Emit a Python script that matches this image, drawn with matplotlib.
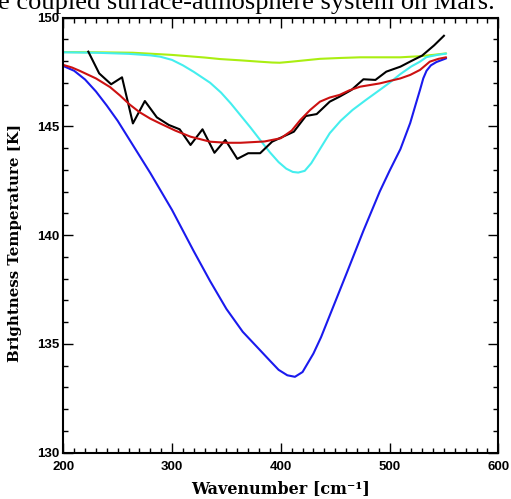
import matplotlib
matplotlib.use("Agg")
import matplotlib.pyplot as plt
from matplotlib.ticker import MultipleLocator

# ---- data ----
obs_wn = [223, 233, 244, 254, 264, 275, 286, 297, 307, 317, 328, 339, 349, 360,
          370, 381, 392, 402, 412, 423, 433, 445, 454, 465, 476, 487, 497, 510,
          520, 530, 541, 550]
obs_tb = [148.43, 147.43, 146.93, 147.25, 145.13, 146.16, 145.41, 145.06, 144.86,
          144.14, 144.86, 143.78, 144.37, 143.50, 143.76, 143.76, 144.29, 144.52,
          144.75, 145.47, 145.56, 146.13, 146.36, 146.67, 147.16, 147.13, 147.51,
          147.74, 148.00, 148.25, 148.72, 149.16]

green_wn = [200, 230, 264, 300, 330, 344, 363, 380, 392, 399, 408, 420, 436, 455,
            473, 510, 528, 540, 552]
green_tb = [148.41, 148.40, 148.38, 148.28, 148.16, 148.09, 148.03, 147.97, 147.93,
            147.92, 147.96, 148.02, 148.10, 148.14, 148.17, 148.17, 148.22, 148.28,
            148.35]

cyan_wn = [200, 230, 260, 280, 289, 300, 310, 320, 335, 345, 354, 363, 372, 381,
           390, 398, 405, 411, 416, 422, 428, 436, 445, 455, 466, 478, 491, 500,
           510, 520, 528, 534, 544, 552]
cyan_tb = [148.40, 148.38, 148.33, 148.26, 148.20, 148.05, 147.80, 147.50, 147.00,
           146.55, 146.05, 145.50, 144.95, 144.37, 143.80, 143.35, 143.05, 142.90,
           142.87, 142.95, 143.30, 143.95, 144.68, 145.25, 145.75, 146.20, 146.67,
           147.00, 147.40, 147.75, 147.97, 148.18, 148.28, 148.34]

blue_wn = [200, 210, 220, 230, 240, 250, 260, 270, 280, 290, 300, 310, 320, 335,
           350, 365, 381, 390, 398, 406, 413, 420, 430, 437, 445, 461, 476, 491,
           500, 510, 519, 524, 528, 531, 534, 538, 543, 552]
blue_tb = [147.77, 147.55, 147.15, 146.60, 145.95, 145.25, 144.45, 143.65, 142.85,
           142.00, 141.15, 140.20, 139.25, 137.88, 136.60, 135.55, 134.70, 134.22,
           133.80, 133.55, 133.48, 133.70, 134.55, 135.30, 136.30, 138.30, 140.20,
           142.00, 142.95, 143.95, 145.15, 146.00, 146.67, 147.20, 147.55, 147.80,
           147.95, 148.12]

red_wn = [200, 208, 215, 230, 243, 252, 261, 270, 280, 289, 303, 317, 335, 350,
          363, 385, 400, 410, 418, 427, 436, 445, 454, 463, 473, 491, 510, 519,
          528, 533, 537, 545, 552]
red_tb = [147.82, 147.70, 147.55, 147.20, 146.80, 146.42, 146.00, 145.65, 145.35,
          145.13, 144.80, 144.52, 144.29, 144.24, 144.24, 144.30, 144.45, 144.80,
          145.29, 145.75, 146.13, 146.32, 146.44, 146.65, 146.82, 146.97, 147.20,
          147.36, 147.59, 147.80, 147.97, 148.10, 148.17]

xticks = [200, 300, 400, 500, 600]
yticks = [130, 135, 140, 145, 150]

# ---- figure ----
W, H = 511, 499
fig = plt.figure(figsize=(W / 100, H / 100), dpi=100)
left, right = 63.3 / W, 498.3 / W
bottom, top = 1 - 452.5 / H, 1 - 17.5 / H
ax = fig.add_axes([left, bottom, right - left, top - bottom])

lw = 1.5
kw = dict(lw=lw, solid_joinstyle="round", solid_capstyle="round")
ax.plot(green_wn, green_tb, color="#aaee11", **kw)
ax.plot(cyan_wn, cyan_tb, color="#44eeee", **kw)
ax.plot(blue_wn, blue_tb, color="#1a1aee", **kw)
ax.plot(obs_wn, obs_tb, color="black", lw=lw)
ax.plot(red_wn, red_tb, color="#cc1111", **kw)

ax.set_xlim(200, 600)
ax.set_ylim(130, 150)
ax.set_xticks(xticks)
ax.set_yticks(yticks)
ax.xaxis.set_minor_locator(MultipleLocator(10))
ax.yaxis.set_minor_locator(MultipleLocator(1))
ax.tick_params(which="both", direction="in", top=True, right=True, width=1.0)
ax.tick_params(which="major", length=7)
ax.tick_params(which="minor", length=3.5)
ax.tick_params(axis="x", pad=6)
ax.tick_params(axis="y", pad=3)
for lab in ax.get_xticklabels() + ax.get_yticklabels():
    lab.set_fontfamily("Liberation Sans")
    lab.set_fontweight("bold")
    lab.set_fontsize(9.5)
for s in ax.spines.values():
    s.set_linewidth(1.5)

ax.set_xlabel("Wavenumber [cm⁻¹]", fontfamily="DejaVu Serif", fontweight="bold",
              fontsize=11.5, labelpad=5)
ax.set_ylabel("Brightness Temperature [K]", fontfamily="DejaVu Serif",
              fontweight="bold", fontsize=10.8)
ax.yaxis.set_label_coords(-41.3 / (498.3 - 63.3), 1 - (243 - 17.5) / 435)

# caption fragment clipped at top of the image
fig.text(-0.003, 1 - 9 / H, "e coupled surface-atmosphere system on Mars.",
         fontfamily="Liberation Serif", fontsize=19, ha="left", va="baseline")

fig.savefig("out.png", dpi=100)
